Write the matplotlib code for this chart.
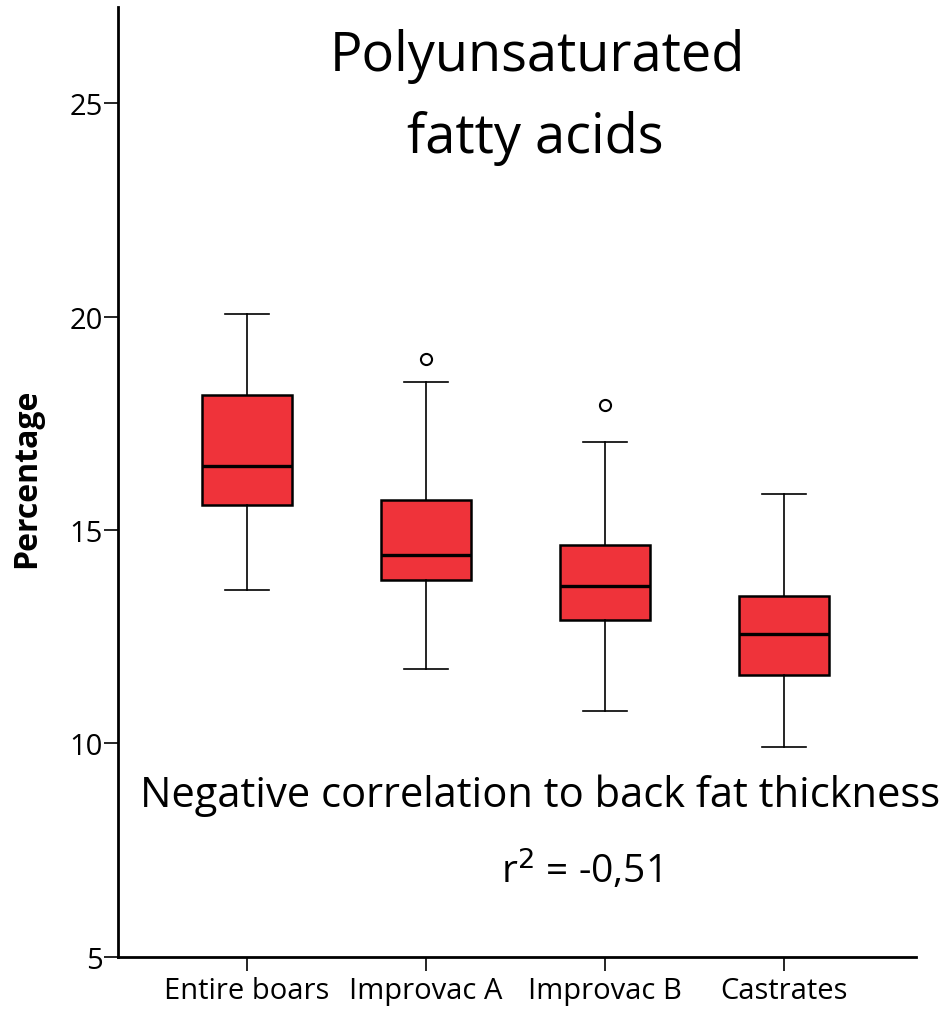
import matplotlib
matplotlib.use("Agg")
import matplotlib.pyplot as plt

plt.rcParams["font.family"] = ["Open Sans", "DejaVu Sans"]

groups = ["Entire boars", "Improvac A", "Improvac B", "Castrates"]
whislo = [13.59, 11.74, 10.76, 9.92]
q1 = [15.59, 13.83, 12.89, 11.60]
med = [16.50, 14.41, 13.69, 12.56]
q3 = [18.16, 15.70, 14.65, 13.45]
whishi = [20.06, 18.47, 17.06, 15.84]
outliers = [[], [19.00], [17.93], []]

stats = [
    dict(label=g, whislo=lo, q1=a, med=m, q3=b, whishi=hi, fliers=f)
    for g, lo, a, m, b, hi, f in zip(groups, whislo, q1, med, q3, whishi, outliers)
]

fig = plt.figure(figsize=(9.5, 10.12), dpi=100)
ax = fig.add_axes([0.1242, 0.0534, 0.840, 0.9387])

ax.bxp(
    stats, positions=range(len(groups)), widths=0.5, patch_artist=True,
    boxprops=dict(facecolor="#ef333a", edgecolor="black", linewidth=1.8),
    medianprops=dict(color="black", linewidth=2.4),
    whiskerprops=dict(color="black", linewidth=1.2),
    capprops=dict(color="black", linewidth=1.2),
    capwidths=0.245,
    flierprops=dict(marker="o", markersize=8, markerfacecolor="white",
                    markeredgecolor="black", markeredgewidth=1.5),
)

ax.set_xlim(-0.72, 3.737)
ax.set_ylim(5, 27.25)
ax.set_yticks([5, 10, 15, 20, 25])
ax.set_xticks(range(len(groups)))
ax.set_xticklabels(groups)
for side in ("top", "right"):
    ax.spines[side].set_visible(False)
for side in ("left", "bottom"):
    ax.spines[side].set_linewidth(2)
ax.tick_params(axis="y", length=10, width=1.2, labelsize=21, pad=1)
ax.tick_params(axis="x", length=10, width=1.2, labelsize=21, pad=4)
ax.set_ylabel("Percentage", fontsize=23, fontweight="bold", va="center")
ax.yaxis.set_label_coords(-0.114, 0.505)

ax.text(1.621, 25.78, "Polyunsaturated", ha="center", va="baseline", fontsize=39)
ax.text(1.61, 23.86, "fatty acids", ha="center", va="baseline", fontsize=39)
ax.text(1.638, 8.54, "Negative correlation to back fat thickness",
        ha="center", va="baseline", fontsize=30)
ax.text(1.864, 6.76, "r$^2$ = -0,51", ha="center", va="baseline", fontsize=28)

fig.savefig("out.png", dpi=100)
